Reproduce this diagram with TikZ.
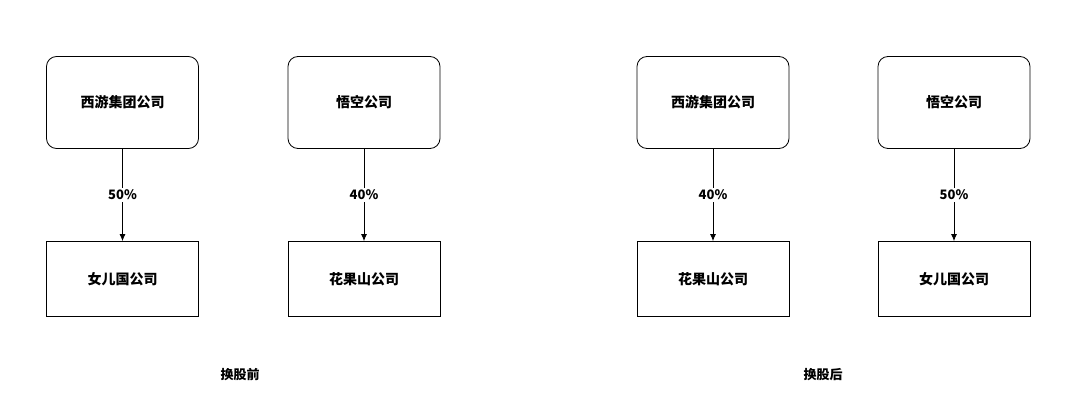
\documentclass[tikz,border=0pt]{standalone}
\usepackage{fontspec}
\setmainfont{Noto Sans CJK SC}
\begin{document}
\begin{tikzpicture}[x=1pt,y=-1pt,
  box/.style={draw,line width=0.8pt,minimum width=152pt,minimum height=#1,inner sep=0pt,font=\bfseries\fontsize{14}{16}\selectfont},
  rbox/.style={box=92pt,rounded corners=10pt},
  sbox/.style={box=75pt},
  lab/.style={fill=white,font=\bfseries\fontsize{13}{15}\selectfont,inner sep=2pt},
  arr/.style={-{Latex[length=7pt,width=6pt]},line width=0.8pt}]
\useasboundingbox (0,0) rectangle (1080,417);
\usetikzlibrary{arrows.meta}
\node[rbox] (a1) at (122.5,102.5) {西游集团公司};
\node[rbox] (a2) at (364,102.5) {悟空公司};
\node[sbox] (b1) at (122.5,279) {女儿国公司};
\node[sbox] (b2) at (364,279) {花果山公司};
\node[rbox] (c1) at (713,102.5) {西游集团公司};
\node[rbox] (c2) at (954,102.5) {悟空公司};
\node[sbox] (d1) at (713,279) {花果山公司};
\node[sbox] (d2) at (954,279) {女儿国公司};
\draw[arr] (a1) -- node[lab]{50\%} (b1);
\draw[arr] (a2) -- node[lab]{40\%} (b2);
\draw[arr] (c1) -- node[lab]{40\%} (d1);
\draw[arr] (c2) -- node[lab]{50\%} (d2);
\node[font=\bfseries\fontsize{13}{15}\selectfont] (t1) at (240,375) {换股前};
\node[font=\bfseries\fontsize{13}{15}\selectfont] (t2) at (823,375) {换股后};
\end{tikzpicture}
\end{document}
